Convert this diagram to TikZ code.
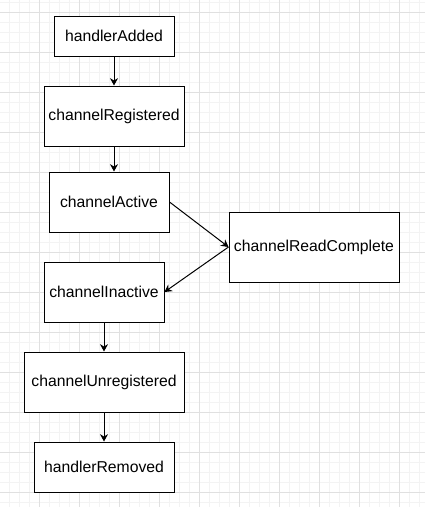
\documentclass[tikz,border=0pt]{standalone}
\usepackage{fontspec}
\setmainfont{Liberation Sans}
\usepackage{xcolor}
\usetikzlibrary{arrows.meta}
\definecolor{minorline}{HTML}{F3F3F3}
\definecolor{majorline}{HTML}{E0E0E0}

\begin{document}
\begin{tikzpicture}[
    x=0.75pt, y=-0.75pt,
    event/.style={rectangle, draw=black, fill=white, line width=0.75pt, inner sep=2pt, align=center, font=\fontsize{11.8}{14}\selectfont},
    flow/.style={-{Stealth[length=5.5pt, width=6pt]}, line width=0.75pt},
    minorgrid/.style={draw=minorline, line width=0.75pt},
    majorgrid/.style={draw=majorline, line width=0.75pt},
]
\useasboundingbox (0,0) rectangle (425,507);
\fill[white] (0,0) rectangle (425,507);

% Grid
\foreach \x in {9,19,...,419} \draw[minorgrid] (\x,0) -- (\x,507);
\foreach \y in {2,12,...,502} \draw[minorgrid] (0,\y) -- (425,\y);
\foreach \x in {39,79,...,399} \draw[majorgrid] (\x,0) -- (\x,507);
\foreach \y in {12,52,...,492} \draw[majorgrid] (0,\y) -- (425,\y);

% Events
\node[event, minimum width=90pt, minimum height=30pt] (added) at (114,36) {handlerAdded};
\node[event, minimum width=105pt, minimum height=45pt] (reg) at (114,116) {channelRegistered};
\node[event, minimum width=90pt, minimum height=45pt] (act) at (109,202) {channelActive};
\node[event, minimum width=127.5pt, minimum height=52.5pt] (readc) at (314,247) {channelReadComplete};
\node[event, minimum width=90pt, minimum height=45pt] (inact) at (104,292) {channelInactive};
\node[event, minimum width=120pt, minimum height=45pt] (unreg) at (104,382) {channelUnregistered};
\node[event, minimum width=105pt, minimum height=37.5pt] (removed) at (104,467) {handlerRemoved};

% Lifecycle
\draw[flow] (added) -- (reg);
\draw[flow] (reg.south) -- (reg.south |- act.north);
\draw[flow] (act.east) -- (readc.west);
\draw[flow] (readc.west) -- (inact.east);
\draw[flow] (inact) -- (unreg);
\draw[flow] (unreg) -- (removed);

\end{tikzpicture}
\end{document}
